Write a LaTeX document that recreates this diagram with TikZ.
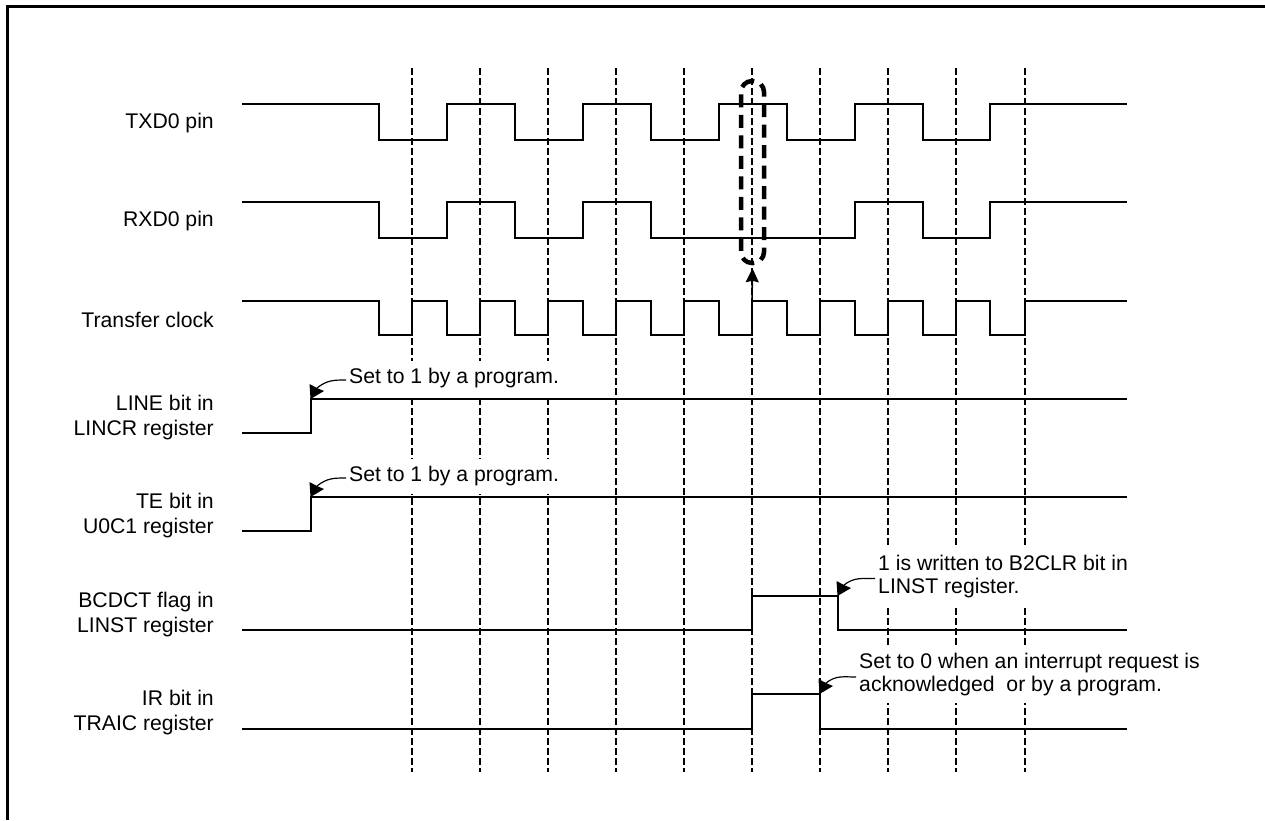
\documentclass[tikz,border=0pt]{standalone}
\usepackage{fontspec}
\setmainfont{Liberation Sans}
\usetikzlibrary{arrows.meta}
\tikzset{
  x=1pt,y=-1pt,
  frameline/.style={line width=3.5pt,line cap=butt},
  grid/.style={line width=1.3pt,dash pattern=on 6.5pt off 3.5pt},
  wave/.style={line width=2pt,line join=miter},
  siglabel/.style={anchor=east,align=right,inner sep=0pt,font=\fontsize{21.2}{25}\selectfont},
  note/.style={anchor=west,align=left,fill=white,inner sep=2pt,font=\fontsize{21.2}{23}\selectfont},
  callout/.style={line width=1.2pt},
  capture/.style={line width=4.5pt,dash pattern=on 13pt off 7.5pt,rounded corners=11pt},
  risearrow/.style={line width=1.6pt,shorten >=3pt,-{Stealth[length=14pt,width=13pt,inset=1.5pt]}}
}
\newcommand{\calloutarrow}[2]{%
  \draw[callout] ([xshift=-1pt,yshift=-2pt]#1.west) .. controls +(-12,0) and +(10,-8) .. ([shift={(6,-11)}]#2);
  \fill ([shift={(-0.5,0)}]#2) -- ([shift={(-1.5,-15)}]#2) -- ([shift={(6,-11)}]#2) -- ([shift={(13,-8)}]#2) -- cycle;
}
\begin{document}
\begin{tikzpicture}
\useasboundingbox (0,0) rectangle (1265,820);
\draw[frameline] (7.5,820) -- (7.5,6.5) -- (1265,6.5);
\foreach \gx in {412,480,548,616,684,752,820,888,956,1025}
  \draw[grid] (\gx,68) -- (\gx,772);
% waveforms
\draw[wave] (242,104) -- (379,104) -- (379,140) -- (447,140) -- (447,104) -- (515,104) -- (515,140) -- (583,140) -- (583,104) -- (651,104) -- (651,140) -- (719,140) -- (719,104) -- (787,104) -- (787,140) -- (855,140) -- (855,104) -- (923,104) -- (923,140) -- (990,140) -- (990,104) -- (1127,104);
\draw[wave] (242,202) -- (379,202) -- (379,238) -- (447,238) -- (447,202) -- (515,202) -- (515,238) -- (583,238) -- (583,202) -- (651,202) -- (651,238) -- (855,238) -- (855,202) -- (923,202) -- (923,238) -- (990,238) -- (990,202) -- (1127,202);
\draw[wave] (242,301) -- (379,301) -- (379,335) -- (412,335) -- (412,301) -- (447,301) -- (447,335) -- (480,335) -- (480,301) -- (515,301) -- (515,335) -- (548,335) -- (548,301) -- (583,301) -- (583,335) -- (616,335) -- (616,301) -- (651,301) -- (651,335) -- (684,335) -- (684,301) -- (719,301) -- (719,335) -- (752,335) -- (752,301) -- (787,301) -- (787,335) -- (820,335) -- (820,301) -- (855,301) -- (855,335) -- (888,335) -- (888,301) -- (923,301) -- (923,335) -- (956,335) -- (956,301) -- (990,301) -- (990,335) -- (1025,335) -- (1025,301) -- (1127,301);
\draw[wave] (242,433) -- (311,433) -- (311,399) -- (1127,399);
\draw[wave] (242,531) -- (311,531) -- (311,497) -- (1127,497);
\draw[wave] (242,630) -- (752,630) -- (752,596) -- (838,596) -- (838,630) -- (1127,630);
\draw[wave] (242,729) -- (752,729) -- (752,694) -- (820,694) -- (820,729) -- (1127,729);
% labels
\node[siglabel] (ltxd) at (214,123) {TXD0 pin};
\node[siglabel] (lrxd) at (214,221) {RXD0 pin};
\node[siglabel] (lclk) at (214,320) {Transfer clock};
\node[siglabel] (lline) at (214,418) {LINE bit in\\LINCR register};
\node[siglabel] (lte) at (214,516) {TE bit in\\U0C1 register};
\node[siglabel] (lbc) at (214,615) {BCDCT flag in\\LINST register};
\node[siglabel] (lir) at (214,713) {IR bit in\\TRAIC register};
% notes
\node[note,minimum height=35pt] (n1) at (347,378) {Set to 1 by a program.};
\node[note,minimum height=35pt] (n2) at (347,476) {Set to 1 by a program.};
\node[note,minimum height=57pt] (n3) at (876,576.5) {1 is written to B2CLR bit in\\LINST register.};
\node[note,minimum height=55pt] (n4) at (857,675) {Set to 0 when an interrupt request is\\acknowledged~~or by a program.};
\coordinate (t1) at (311,399);
\coordinate (t2) at (311,497);
\coordinate (t3) at (838,596);
\coordinate (t4) at (820,694);
\calloutarrow{n1}{t1}
\calloutarrow{n2}{t2}
\calloutarrow{n3}{t3}
\calloutarrow{n4}{t4}
% capture
\node[draw,capture,minimum width=23pt,minimum height=182pt,inner sep=0pt] (cap) at (752.5,172) {};
\coordinate (clkedge) at (752,301);
\draw[risearrow] (clkedge) -- (cap.south);
\end{tikzpicture}
\end{document}
